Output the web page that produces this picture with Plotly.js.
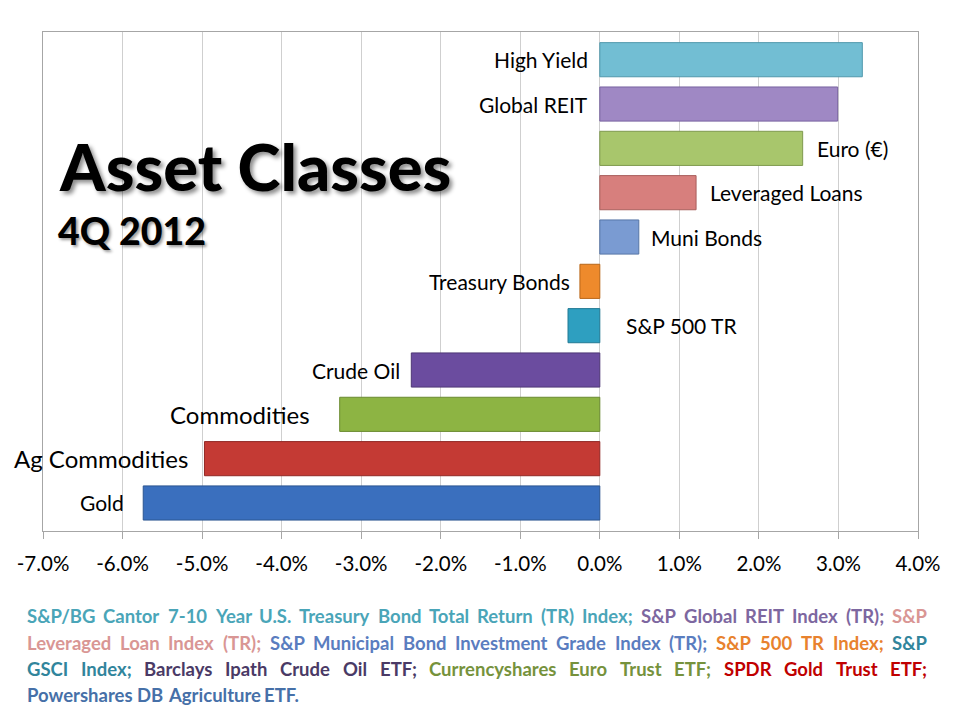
<!DOCTYPE html>
<html>
<head>
<meta charset="utf-8">
<script src="https://cdn.plot.ly/plotly-3.0.1.min.js"></script>
<style>html,body{margin:0;padding:0;background:#fff;}#chart{width:960px;height:720px;}</style>
</head>
<body>
<div id="chart"></div>
<script>
// ---- data (bottom to top) ----
const categories = ['Gold','Ag Commodities','Commodities','Crude Oil','S&P 500 TR','Treasury Bonds','Muni Bonds','Leveraged Loans','Euro (€)','Global REIT','High Yield'];
const returnsPct = [-5.74,-4.97,-3.27,-2.37,-0.40,-0.25,0.49,1.21,2.55,2.99,3.30];
const tickValues = [-7,-6,-5,-4,-3,-2,-1,0,1,2,3,4];
const tickLabels = ['-7.0%','-6.0%','-5.0%','-4.0%','-3.0%','-2.0%','-1.0%','0.0%','1.0%','2.0%','3.0%','4.0%'];

// ---- styles ----
const barColors = ['#3A6FBE','#C43A34','#8DB443','#6B4C9F','#2E9FC0','#EE8A2C','#7A9BD2','#D77F7D','#A8C66C','#9F88C4','#72BED3'];
const barEdges  = ['#2B5590','#922A26','#6A8A30','#4F3876','#237A94','#B86618','#5675A6','#A85F5D','#7F9A4E','#7862A0','#4F98AC'];
const labelSide = ['L','L','L','L','R','L','R','R','R','L','L'];
const labelGap  = [17,14,28,9,24,8,10,12,12,10,10];
const labelSize = [21,24,24,21,21,21,21,21,21,21,21];

const L = 43, R = 918, T = 32, B = 531;
const px2x = p => (p - L) / (R - L);
const py2y = p => (B - p) / (B - T);

const trace = {
  type: 'bar', orientation: 'h',
  x: returnsPct, y: categories,
  width: 0.77,
  marker: {color: barColors, line: {color: barEdges, width: 1}},
  hoverinfo: 'x+y'
};

const annotations = categories.map((c, i) => {
  const v = returnsPct[i];
  const left = labelSide[i] === 'L';
  const anchor = left ? Math.min(0, v) : Math.max(0, v);
  return {
    xref: 'x', yref: 'y', x: anchor, y: c,
    text: c, showarrow: false,
    xanchor: left ? 'right' : 'left', yanchor: 'middle',
    xshift: left ? -labelGap[i] : labelGap[i],
    font: {family: 'Lato, sans-serif', size: labelSize[i], color: '#000'}
  };
});

// titles
annotations.push({
  xref: 'paper', yref: 'paper', x: px2x(57), y: py2y(166),
  xanchor: 'left', yanchor: 'middle', showarrow: false,
  text: 'Asset Classes',
  font: {family: 'Lato, sans-serif', size: 65, color: '#000', weight: 900, shadow: '3px 3px 4px rgba(0,0,0,0.45)'}
});
annotations.push({
  xref: 'paper', yref: 'paper', x: px2x(56), y: py2y(231),
  xanchor: 'left', yanchor: 'middle', showarrow: false,
  text: '4Q 2012',
  font: {family: 'Lato, sans-serif', size: 37.5, color: '#000', weight: 900, shadow: '2px 2px 3px rgba(0,0,0,0.4)'}
});

// footnote (justified lines, word by word)
const FN_SIZE = 18.5;
const fnFont = col => ({family: 'Lato, sans-serif', size: FN_SIZE, color: col, weight: 'bold'});
const ctx = document.createElement('canvas').getContext('2d');
ctx.font = 'bold ' + FN_SIZE + 'px Lato';
const fnLines = [
  {y: 616, justify: true, segs: [['#4AA5B8','S&P/BG Cantor 7-10 Year U.S. Treasury Bond Total Return (TR) Index;'], ['#7D67A0','S&P Global REIT Index (TR);'], ['#D99694','S&P']]},
  {y: 643, justify: true, segs: [['#D99694','Leveraged Loan Index (TR);'], ['#5A7DBF','S&P Municipal Bond Investment Grade Index (TR);'], ['#E8822E','S&P 500 TR Index;'], ['#31859C','S&P']]},
  {y: 669, justify: true, segs: [['#31859C','GSCI Index;'], ['#4A3A66','Barclays Ipath Crude Oil ETF;'], ['#76923C','Currencyshares Euro Trust ETF;'], ['#C00000','SPDR Gold Trust ETF;']]},
  {y: 695, justify: false, segs: [['#4670A8','Powershares DB Agriculture ETF.']]}
];
const FN_L = 25, FN_R = 925;
fnLines.forEach(ln => {
  const words = [];
  ln.segs.forEach(s => s[1].split(' ').forEach(w => words.push({col: s[0], w: w, width: ctx.measureText(w).width})));
  const total = words.reduce((a, b) => a + b.width, 0);
  const gap = ln.justify ? (FN_R - FN_L - total) / (words.length - 1) : ctx.measureText(' ').width;
  let xpos = FN_L;
  words.forEach(wd => {
    annotations.push({
      xref: 'paper', yref: 'paper', x: px2x(xpos), y: py2y(ln.y),
      xanchor: 'left', yanchor: 'middle', showarrow: false,
      text: wd.w, font: fnFont(wd.col)
    });
    xpos += wd.width + gap;
  });
});

const layout = {
  width: 960, height: 720,
  margin: {l: L, r: 960 - R, t: T, b: 720 - B},
  paper_bgcolor: '#fff', plot_bgcolor: '#fff',
  showlegend: false,
  xaxis: {
    range: [-7, 4], tickvals: tickValues, ticktext: tickLabels,
    showgrid: true, gridcolor: '#CFCFCF', gridwidth: 1,
    zeroline: false,
    showline: true, mirror: true, linecolor: '#A6A6A6', linewidth: 1,
    ticks: 'outside', ticklen: 7, tickcolor: '#A6A6A6',
    ticklabelstandoff: 7,
    tickfont: {family: 'Lato, sans-serif', size: 20.5, color: '#000'}
  },
  yaxis: {
    type: 'category', categoryorder: 'array', categoryarray: categories,
    range: [-0.632, 10.625],
    showticklabels: false, showgrid: false, zeroline: false,
    showline: true, mirror: true, linecolor: '#A6A6A6', linewidth: 1,
    ticks: ''
  },
  annotations: annotations
};

Plotly.newPlot('chart', [trace], layout, {displayModeBar: false, staticPlot: true});
</script>
</body>
</html>
